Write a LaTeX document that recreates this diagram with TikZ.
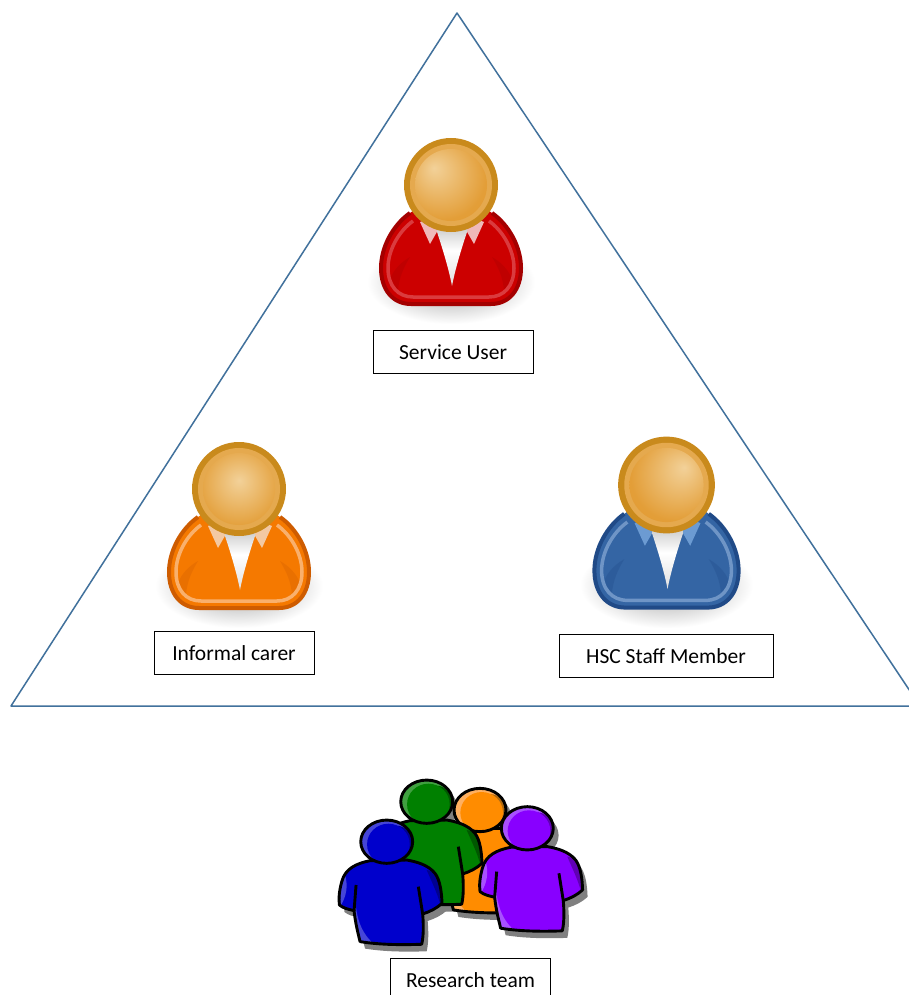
\documentclass[tikz,border=0pt]{standalone}
\usepackage{fontspec}
\setmainfont{Carlito}
\definecolor{lineblue}{HTML}{41719C}
\definecolor{headrim}{HTML}{C98A1C}
\definecolor{headband}{HTML}{E5A94E}
\definecolor{redmain}{HTML}{CC0000}
\definecolor{redrim}{HTML}{A40000}
\definecolor{redring}{HTML}{DA3B3E}
\definecolor{redcollar}{HTML}{EFB9B9}
\definecolor{orangemain}{HTML}{F57900}
\definecolor{orangerim}{HTML}{CE5C00}
\definecolor{orangering}{HTML}{F9B06C}
\definecolor{orangecollar}{HTML}{F3C9A2}
\definecolor{bluemain}{HTML}{3465A4}
\definecolor{bluerim}{HTML}{204A87}
\definecolor{bluering}{HTML}{6F95C6}
\definecolor{bluecollar}{HTML}{6C9BD2}
\definecolor{teamorange}{HTML}{FF8C00}
\definecolor{teamorangelight}{HTML}{FFB060}
\definecolor{teamorangedark}{HTML}{B06A10}
\definecolor{teamgreen}{HTML}{008000}
\definecolor{teamgreenlight}{HTML}{40A040}
\definecolor{teamgreendark}{HTML}{005800}
\definecolor{teamblue}{HTML}{0000CC}
\definecolor{teambluelight}{HTML}{4545D8}
\definecolor{teambluedark}{HTML}{000090}
\definecolor{teampurple}{HTML}{8800FF}
\definecolor{teampurplelight}{HTML}{A850FF}
\definecolor{teampurpledark}{HTML}{6000B4}
\pgfdeclareradialshading{glowleft}{\pgfpoint{-12bp}{12bp}}{rgb(0bp)=(.95,.82,.60);rgb(30bp)=(.89,.62,.22);rgb(60bp)=(.87,.58,.15)}
\pgfdeclareradialshading{glowmid}{\pgfpoint{0bp}{6bp}}{rgb(0bp)=(.95,.82,.60);rgb(30bp)=(.89,.62,.22);rgb(60bp)=(.87,.58,.15)}
\pgfdeclareradialshading{glowright}{\pgfpoint{12bp}{12bp}}{rgb(0bp)=(.95,.82,.60);rgb(30bp)=(.89,.62,.22);rgb(60bp)=(.87,.58,.15)}
\newcommand{\personbody}{(-41,28) .. controls (-58,40) and (-70,62) .. (-70,83) .. controls (-70,105) and (-58,119) .. (-40,119) -- (40,119) .. controls (58,119) and (70,105) .. (70,83) .. controls (70,62) and (58,40) .. (41,28) -- (0,0) -- cycle}
\newcommand{\personring}{(-38,36) .. controls (-52,46) and (-63,65) .. (-63,83) .. controls (-63,101) and (-53,112) .. (-38,112) -- (38,112) .. controls (53,112) and (63,101) .. (63,83) .. controls (63,65) and (52,46) .. (38,36)}
\newcommand{\teambody}{(-50,57) .. controls (-90,65) and (-125,80) .. (-135,120) .. controls (-142,145) and (-145,170) .. (-142,190) .. controls (-130,200) and (-115,203) .. (-98,207) .. controls (-95,240) and (-85,280) .. (-80,300) .. controls (-20,310) and (50,310) .. (105,308) .. controls (112,280) and (110,240) .. (108,217) .. controls (130,210) and (150,200) .. (166,185) .. controls (165,150) and (160,115) .. (145,95) .. controls (125,70) and (90,60) .. (60,55) -- cycle}
\tikzset{
	labelbox/.style={draw=black, line width=0.9pt, fill=white, minimum height=43pt, inner sep=0pt, font=\fontsize{21.5}{25}\selectfont},
	pics/personicon/.style n args={5}{code={
		\shade[inner color=black!38, outer color=white] (0,97) ellipse [x radius=84, y radius=42];
		\fill[#1] \personbody;
		\fill[#2, opacity=0.3] (-41,72) .. controls (-47,82) and (-52,92) .. (-53,106) -- (-62,98) .. controls (-60,88) and (-52,78) .. cycle;
		\fill[#2, opacity=0.3] (41,72) .. controls (47,82) and (52,92) .. (53,106) -- (62,98) .. controls (60,88) and (52,78) .. cycle;
		\draw[#3, line width=3.5pt] \personring;
		\draw[#2, line width=4pt, line join=round] (-41,28) .. controls (-58,40) and (-70,62) .. (-70,83) .. controls (-70,105) and (-58,119) .. (-40,119) -- (40,119) .. controls (58,119) and (70,105) .. (70,83) .. controls (70,62) and (58,40) .. (41,28);
		\fill[#4] (-31,37) -- (-21,59) -- (-13,45) -- (-13,30) -- cycle;
		\fill[#4] (33,37) -- (23,59) -- (15,45) -- (15,30) -- cycle;
		\shade[top color=black!30, bottom color=black!12, middle color=white] (-14,47) .. controls (-8,65) and (-2,85) .. (1,101) .. controls (4,85) and (10,65) .. (16,47) -- (16,30) -- (-14,30) -- cycle;
		\fill[headrim] (0,0) circle [radius=47];
		\fill[headband] (0,0) circle [radius=41];
		\shade[shading=#5] (0,0) circle [radius=36];
	}},
	pics/teamshadow/.style={code={
		\fill[black!50] \teambody;
		\fill[black!50] (0,0) ellipse [x radius=79, y radius=66];
	}},
	pics/teammember/.style n args={3}{code={
		\fill[#1] \teambody;
		\fill[#2] (-95,150) .. controls (-95,220) and (-80,270) .. (-40,306) -- (-80,300) .. controls (-85,280) and (-95,240) .. (-98,207) -- cycle;
		\fill[#2] (-125,100) .. controls (-138,130) and (-142,165) .. (-138,192) .. controls (-122,165) and (-115,135) .. cycle;
		\fill[#3] (120,85) .. controls (135,120) and (150,150) .. (160,185) .. controls (165,150) and (160,115) .. (140,90) -- cycle;
		\draw[black, line width=2.9pt, line join=round] \teambody;
		\draw[black, line width=2.9pt] (-92,130) -- (-98,207);
		\draw[black, line width=2.9pt] (95,135) -- (108,217);
		\begin{scope}
			\clip (0,0) ellipse [x radius=78, y radius=65];
			\fill[#2] (0,0) ellipse [x radius=78, y radius=65];
			\fill[#3] (30,10) ellipse [x radius=50, y radius=58];
			\fill[#1] (5,8) ellipse [x radius=64, y radius=62];
		\end{scope}
		\draw[black, line width=2.9pt] (0,0) ellipse [x radius=78, y radius=65];
	}}
}
\begin{document}
\begin{tikzpicture}[x=1pt, y=-1pt]
	\clip (0,0) rectangle (909,995);
	\fill[white] (0,0) rectangle (909,995);
	\draw[lineblue, line width=1.5pt, line join=round] (457,13) -- (11,706) -- (920,706) -- cycle;
	\pic at (451,185) {personicon={redmain}{redrim}{redring}{redcollar}{glowleft}};
	\pic at (239,489) {personicon={orangemain}{orangerim}{orangering}{orangecollar}{glowmid}};
	\pic[scale=1.03] at (666.5,485) {personicon={bluemain}{bluerim}{bluering}{bluecollar}{glowright}};
	\node[labelbox, minimum width=160pt] (serviceuser) at (453,352) {Service User};
	\node[labelbox, minimum width=160pt] (informalcarer) at (234,653) {Informal carer\hspace{6pt}};
	\node[labelbox, minimum width=214pt] (hscstaff) at (666,656) {HSC Staff Member};
	\pic[scale=0.333] at (391.7,848.7) {teamshadow};
	\pic[scale=0.333] at (431.7,808.7) {teamshadow};
	\pic[scale=0.333] at (485,817) {teamshadow};
	\pic[scale=0.333] at (532.3,835.3) {teamshadow};
	\pic[scale=0.333] at (480,810) {teammember={teamorange}{teamorangelight}{teamorangedark}};
	\pic[scale=0.333] at (426.7,801.7) {teammember={teamgreen}{teamgreenlight}{teamgreendark}};
	\pic[scale=0.333] at (386.7,841.7) {teammember={teamblue}{teambluelight}{teambluedark}};
	\pic[scale=0.333] at (527.3,828.3) {teammember={teampurple}{teampurplelight}{teampurpledark}};
	\node[labelbox, minimum width=160pt] (researchteam) at (470.5,980) {Research team};
\end{tikzpicture}
\end{document}
